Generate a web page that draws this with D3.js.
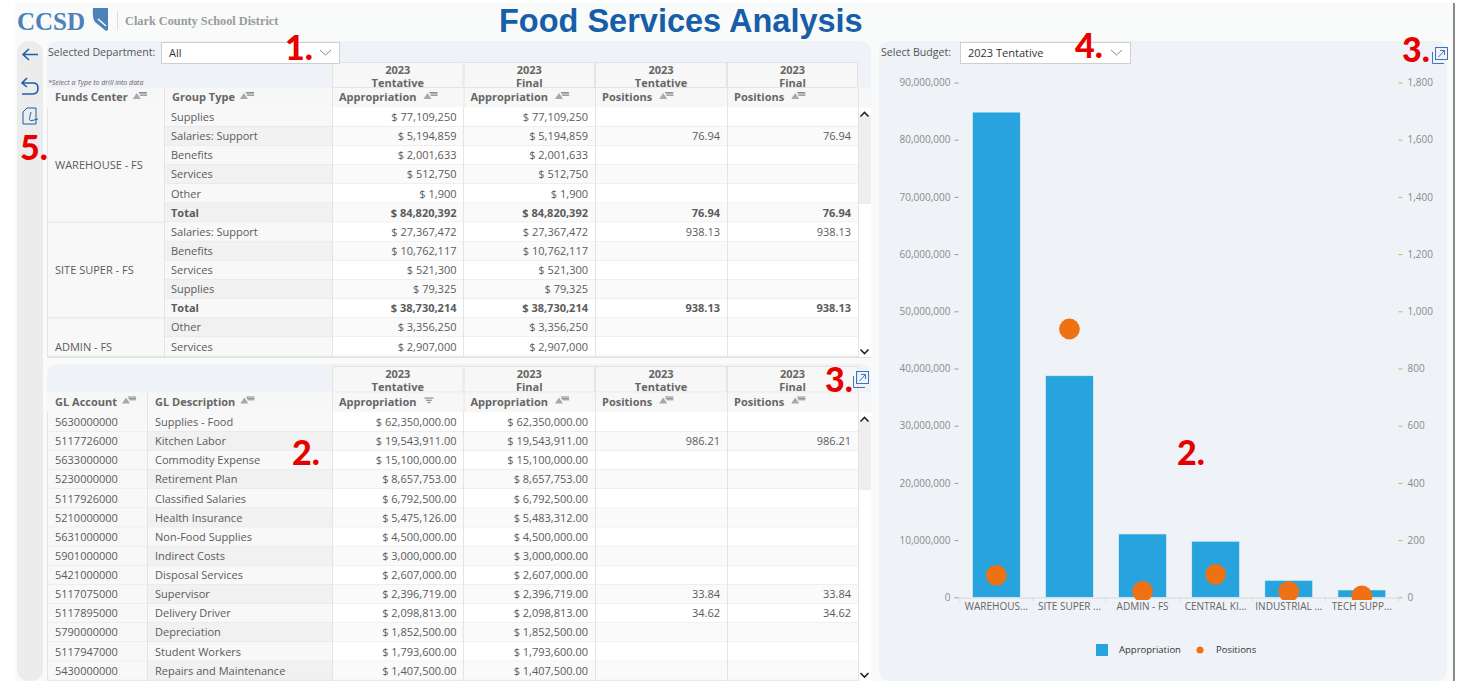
<!DOCTYPE html>
<html><head><meta charset="utf-8">
<script src="https://cdn.jsdelivr.net/npm/d3@7/dist/d3.min.js"></script>
<style>html,body{margin:0;padding:0;background:#fff;overflow:hidden}svg{display:block}text{font-family:"Open Sans",sans-serif}</style>
</head><body><svg id="c" width="1463" height="681"></svg>
<script>
// ---- chart data ----
const departments = ["WAREHOUSE - FS","SITE SUPER - FS","ADMIN - FS","CENTRAL KITCHEN - FS","INDUSTRIAL - FS","TECH SUPPORT - FS"];
const departmentLabels = ["WAREHOUS...","SITE SUPER ...","ADMIN - FS","CENTRAL KI...","INDUSTRIAL ...","TECH SUPP..."];
const appropriation = [84820392,38730214,11070000,9800000,2970000,1280000];
const positions = [76.94,938.13,21,80,20,5];
const leftTicks = [0,10e6,20e6,30e6,40e6,50e6,60e6,70e6,80e6,90e6];
const rightTicks = [0,200,400,600,800,1000,1200,1400,1600,1800];
// ---- top table ----
const topGroups = [["WAREHOUSE - FS",6],["SITE SUPER - FS",5],["ADMIN - FS",2]];
const topTypes = ["Supplies","Salaries: Support","Benefits","Services","Other","Total","Salaries: Support","Benefits","Services","Supplies","Total","Other","Services"];
const topTent = [77109250,5194859,2001633,512750,1900,84820392,27367472,10762117,521300,79325,38730214,3356250,2907000];
const topPos = [null,76.94,null,null,null,76.94,938.13,null,null,null,938.13,null,null];
// ---- bottom table ----
const glAccounts = ["5630000000","5117726000","5633000000","5230000000","5117926000","5210000000","5631000000","5901000000","5421000000","5117075000","5117895000","5790000000","5117947000","5430000000"];
const glDesc = ["Supplies - Food","Kitchen Labor","Commodity Expense","Retirement Plan","Classified Salaries","Health Insurance","Non-Food Supplies","Indirect Costs","Disposal Services","Supervisor","Delivery Driver","Depreciation","Student Workers","Repairs and Maintenance"];
const glTent = [62350000,19543911,15100000,8657753,6792500,5475126,4500000,3000000,2607000,2396719,2098813,1852500,1793600,1407500];
const glFinal = [62350000,19543911,15100000,8657753,6792500,5483312,4500000,3000000,2607000,2396719,2098813,1852500,1793600,1407500];
const glPos = [null,986.21,null,null,null,null,null,null,null,33.84,34.62,null,null,null];
const headYears = ["2023","2023","2023","2023"];
const headKinds = ["Tentative","Final","Tentative","Final"];
const headMeasures = ["Appropriation","Appropriation","Positions","Positions"];
const annotations = [["1.",285,60],["2.",292,465],["3.",825,392],["2.",1177,465],["4.",1075,58],["3.",1402,62],["5.",20,160]];

const svg = d3.select("#c");
const INK="#5b5b5b", HEAD="#666", BLUE="#1d5fa8", LINE="#e4e4e4";
const rect=(g,x,y,w,h,f,r)=>g.append("rect").attr("x",x).attr("y",y).attr("width",w).attr("height",h).attr("fill",f).attr("rx",r||0);
const text=(g,s,x,y,o={})=>g.append("text").text(s).attr("x",x).attr("y",y).attr("font-size",o.size||11).attr("fill",o.fill||INK)
  .attr("font-weight",o.weight||400).attr("text-anchor",o.anchor||"start").attr("font-style",o.style||"normal").style("font-family",o.family||null);
const money=d3.format(",");
const pos2=d3.format(",.2f");

// page
rect(svg,15,3,1438,678,"#f9fafa");
rect(svg,0,0,1463,3,"#ffffff");
svg.append("line").attr("x1",1454).attr("x2",1454).attr("y1",3).attr("y2",681).attr("stroke","#8a8a8a").attr("stroke-width",2);
// header
text(svg,"CCSD",17,30,{size:25,weight:700,fill:"#4c82b8",family:"'Liberation Serif',serif"});
svg.append("path").attr("d","M93 8 L108 8 L108 30 L106 31 L95 22 Q92 18 93 8Z").attr("fill","#4c82b8");
svg.append("path").attr("d","M98 19 L106 26").attr("stroke","#fff").attr("stroke-width",1.5);
svg.append("line").attr("x1",117.5).attr("x2",117.5).attr("y1",11).attr("y2",30).attr("stroke","#ddd");
text(svg,"Clark County School District",125,25,{size:12.3,weight:700,fill:"#9a9a9a",family:"'Liberation Serif',serif"});
text(svg,"Food Services Analysis",499,32,{size:32.5,weight:700,fill:"#175ea8",family:"'Liberation Sans',sans-serif"});

// left toolbar
rect(svg,17,41,26,640,"#ececec",12);
const tb=svg.append("g").attr("fill","none").attr("stroke",BLUE).attr("stroke-width",1.6);
tb.append("path").attr("d","M38 54.5 H23 M29 49 L23 54.5 L29 60");
tb.append("path").attr("d","M27 78 L22 83 L27 87 M22 83 H33 Q38 83 38 88 Q38 94 33 94 H22");
tb.append("path").attr("d","M23 112 L27 108 H36 V124 H23 Z").attr("stroke-width",1);
tb.append("path").attr("d","M31 112 C29 121 27 122 38 119").attr("stroke-width",1);

// panels
const panelsBg="#eff2f6";
rect(svg,47,41,824,317,panelsBg,10);
rect(svg,47,364,824,317,panelsBg,10);
rect(svg,879,41,568,640,panelsBg,10);

const colX=[332,463.5,595,727,858];
function sortIcon(g,x,y,desc){
  if(!desc) g.append("path").attr("d",`M${x} ${y+7} L${x+4} ${y+1} L${x+8} ${y+7}Z`).attr("fill","#a8a8a8");
  [[8,6],[9,4],[10,2]].forEach((d,i)=>{ if(!desc) g.append("rect").attr("x",x+5+i*0.6+1).attr("y",y+i*1.4).attr("width",d[0]-i*1.5).attr("height",1).attr("fill","#8c8c8c");
    else g.append("rect").attr("x",x+1+i*1.5).attr("y",y+1+i*2.2).attr("width",9-i*3).attr("height",1.2).attr("fill","#8c8c8c"); });
}
function tableHead(g,yTop,yMid,yBot,firstW,labels,sortedFirst){
  colX.slice(0,4).forEach((x,i)=>{
    rect(g,x,yTop,colX[i+1]-x,yMid-yTop,"#f7f7f7");
    g.append("rect").attr("x",x+.5).attr("y",yTop+.5).attr("width",colX[i+1]-x-1).attr("height",yMid-yTop-1).attr("fill","none").attr("stroke",LINE);
    text(g,headYears[i],(x+colX[i+1])/2,yTop+11.5,{anchor:"middle",weight:700,fill:HEAD});
    text(g,headKinds[i],(x+colX[i+1])/2,yTop+25,{anchor:"middle",weight:700,fill:HEAD});
  });
  rect(g,47,yMid,823,yBot-yMid,"#f7f7f7");
  const xs=[47,firstW,332];
  labels.forEach((l,i)=>{
    text(g,l,xs[i]+8,yMid+13,{weight:700,fill:HEAD});
    const w=g.select("text:last-child").node().getComputedTextLength();
    sortIcon(g,xs[i]+8+w+5,yMid+4);
    g.append("line").attr("x1",xs[i+1]+.5).attr("x2",xs[i+1]+.5).attr("y1",yMid).attr("y2",yBot).attr("stroke",LINE);
  });
  colX.slice(0,4).forEach((x,i)=>{
    text(g,headMeasures[i],x+7,yMid+13,{weight:700,fill:HEAD});
    const w=g.select("text:last-child").node().getComputedTextLength();
    sortIcon(g,x+7+w+7,yMid+4,sortedFirst&&i==0);
    g.append("line").attr("x1",colX[i+1]+.5).attr("x2",colX[i+1]+.5).attr("y1",yMid).attr("y2",yBot).attr("stroke",LINE);
  });
}
function scrollBar(g,yTop,yBot,thumbB){
  rect(g,858,yTop,13,yBot-yTop,"#ffffff");
  rect(g,858,yTop+8,13,thumbB-yTop-8,"#eeeeee");
  const c=g.append("g").attr("fill","none").attr("stroke","#222").attr("stroke-width",1.6);
  c.append("path").attr("d",`M860.5 ${yTop+9} L864.5 ${yTop+5} L868.5 ${yTop+9}`);
  c.append("path").attr("d",`M860.5 ${yBot-8} L864.5 ${yBot-4} L868.5 ${yBot-8}`);
}
function rows(g,y0,h,n,fn){
  d3.range(n).forEach(i=>fn(i,y0+i*h,y0+i*h+h/2+4));
}

// TOP TABLE
const T=svg.append("g");
text(T,"Selected Department:",48,56,{size:10.6,fill:"#555"});
text(T,"*Select a Type to drill into data",48,85,{size:7,style:"italic",fill:"#666"});
tableHead(T,62,88,107.5,164,["Funds Center","Group Type"],false);
const rowH=19.13, topY=107.5;
rect(T,47,topY,811,250,"#fff");
scrollBar(T,topY,357.5,204);
rect(T,47,topY,285,250,"#f8f8f8");
rows(T,topY,rowH,topTypes.length,(i,y,ty)=>{
  const total=topTypes[i]==="Total", odd=i%2==1;
  const w=total?700:400;
  rect(T,164,y,168,rowH,odd?"#f1f1f1":"#f8f8f8");
  rect(T,332,y,526,rowH,odd?"#fafafa":"#ffffff");
  T.append("line").attr("x1",164).attr("x2",858).attr("y1",y+rowH).attr("y2",y+rowH).attr("stroke",LINE);
  text(T,topTypes[i],171,ty,{weight:w});
  ["$ "+money(topTent[i]),"$ "+money(topTent[i])].forEach((s,k)=>text(T,s,colX[k+1]-7,ty,{anchor:"end",weight:w}));
  if(topPos[i]!=null) [2,3].forEach(k=>text(T,pos2(topPos[i]),colX[k+1]-7,ty,{anchor:"end",weight:w}));
});
let gi=0;
topGroups.forEach((g,k)=>{
  const y=topY+gi*rowH, hh=g[1]*rowH;
  T.append("line").attr("x1",47).attr("x2",164).attr("y1",y+hh).attr("y2",y+hh).attr("stroke",LINE);
  const cy = k==2 ? 351 : y+hh/2+4;
  text(T,g[0],55,cy);
  gi+=g[1];
});
[47.5,164.5,332.5,463.5,595.5,727.5,858.5].forEach(x=>T.append("line").attr("x1",x).attr("x2",x).attr("y1",topY).attr("y2",357.5).attr("stroke",LINE));
T.append("line").attr("x1",47).attr("x2",871).attr("y1",357.5).attr("y2",357.5).attr("stroke","#e0e0e0");
// dropdown
function dropdown(g,x,w,s){
  g.append("rect").attr("x",x+.5).attr("y",42.5).attr("width",w).attr("height",21).attr("fill","#fff").attr("stroke","#cfcfcf");
  text(g,s,x+8,57,{fill:"#333"});
  g.append("path").attr("d",`M${x+w-19} 50 L${x+w-13.5} 55 L${x+w-8} 50`).attr("fill","none").attr("stroke","#7b8794");
}
dropdown(T,161,178,"All");

// BOTTOM TABLE
const B=svg.append("g");
tableHead(B,366,392.5,412.5,147,["GL Account","GL Description"],true);
const botY=412.5;
rect(B,47,botY,811,268.5,"#fff");
scrollBar(B,botY,681,490);
rows(B,botY,rowH,glAccounts.length,(i,y,ty)=>{
  const odd=i%2==1;
  rect(B,47,y,100,rowH,"#f8f8f8");
  rect(B,147,y,185,rowH,odd?"#f1f1f1":"#f8f8f8");
  rect(B,332,y,526,rowH,odd?"#fafafa":"#ffffff");
  B.append("line").attr("x1",47).attr("x2",858).attr("y1",y+rowH).attr("y2",y+rowH).attr("stroke",LINE);
  text(B,glAccounts[i],55,ty);
  text(B,glDesc[i],155,ty);
  const fmt=d3.format(",.2f");
  text(B,"$ "+fmt(glTent[i]),colX[1]-7,ty,{anchor:"end"});
  text(B,"$ "+fmt(glFinal[i]),colX[2]-7,ty,{anchor:"end"});
  if(glPos[i]!=null)[2,3].forEach(k=>text(B,pos2(glPos[i]),colX[k+1]-7,ty,{anchor:"end"}));
});
[47.5,147.5,332.5,463.5,595.5,727.5,858.5].forEach(x=>B.append("line").attr("x1",x).attr("x2",x).attr("y1",botY).attr("y2",681).attr("stroke",LINE));

// CHART
const C=svg.append("g");
text(C,"Select Budget:",881,56,{size:10.6,fill:"#555"});
dropdown(C,960,170,"2023 Tentative");
const x=d3.scaleBand().domain(departments).range([959.8,1398.4]).paddingInner(.346).paddingOuter(.173);
const yL=d3.scaleLinear().domain([0,90e6]).range([597.3,82.5]);
const yR=d3.scaleLinear().domain([0,1800]).range([597.3,82.5]);
svg.append("defs").append("clipPath").attr("id","plot").append("rect").attr("x",950).attr("y",70).attr("width",460).attr("height",530);
const axL=C.append("g").attr("transform","translate(959.5,0)").call(d3.axisLeft(yL).tickValues(leftTicks).tickFormat(d3.format(",")).tickSize(4).tickPadding(5));
axL.select(".domain").remove();
axL.selectAll("line").attr("stroke","#9a9a9a");
axL.selectAll("text").attr("fill","#8b8b8b").attr("font-size",10);
axL.selectAll(".tick line").attr("transform","translate(-1,0)");
const axR=C.append("g").attr("transform","translate(1398.5,0)").call(d3.axisRight(yR).tickValues(rightTicks).tickFormat(d3.format(",")).tickSize(4).tickPadding(5));
axR.select(".domain").remove();
axR.selectAll("line").attr("stroke","#a9c75a");
axR.selectAll("text").attr("fill","#8b8b8b").attr("font-size",10);
const axB=C.append("g").attr("transform","translate(0,597.5)").call(d3.axisBottom(x).tickFormat((d,i)=>departmentLabels[i]).tickSize(0).tickPadding(5));
axB.select(".domain").attr("stroke","#d4d9de");
axB.selectAll("text").attr("fill","#666").attr("font-size",10);
x.domain().forEach((d,i)=>{});
d3.range(departments.length+1).forEach(i=>{
  const px=959.8+i*x.step();
  C.append("line").attr("x1",px).attr("x2",px).attr("y1",597.5).attr("y2",601.5).attr("stroke","#d4d9de");
});
C.selectAll("rect.bar").data(departments).enter().append("rect").attr("class","bar")
  .attr("x",d=>x(d)).attr("width",x.bandwidth())
  .attr("y",(d,i)=>yL(appropriation[i])).attr("height",(d,i)=>yL(0)-yL(appropriation[i]))
  .attr("fill","#27a3de").attr("stroke","#e6f3fb").attr("stroke-width",.6);
C.append("g").attr("clip-path","url(#plot)").selectAll("circle").data(departments).enter().append("circle")
  .attr("cx",d=>x(d)+x.bandwidth()/2).attr("cy",(d,i)=>yR(positions[i])).attr("r",10.4).attr("fill","#ee7114");
// legend
rect(C,1096,644,12,12,"#27a3de");
text(C,"Appropriation",1119,653,{size:9.5,fill:"#333"});
C.append("circle").attr("cx",1200).attr("cy",650).attr("r",3.5).attr("fill","#ee7114");
text(C,"Positions",1216,653,{size:9.5,fill:"#333"});

// expand icons
function expand(x0,y0){
  const g=svg.append("g").attr("fill","none").attr("stroke","#3d74bd").attr("stroke-width",1);
  g.append("rect").attr("x",x0+4.5).attr("y",y0+.5).attr("width",12).attr("height",12);
  g.append("path").attr("d",`M${x0+7.5} ${y0+10} L${x0+13} ${y0+4} M${x0+9} ${y0+3.5} H${x0+13.5} V${y0+8}`);
  g.append("path").attr("d",`M${x0+1.5} ${y0+5} V${y0+16.5} H${x0+13}`);
}
expand(1431,47); expand(852,371);

// red annotations
annotations.forEach(a=>text(svg,a[0],a[1],a[2],{size:34,weight:900,fill:"#e60000",family:"Lato,sans-serif"}));
</script></body></html>
